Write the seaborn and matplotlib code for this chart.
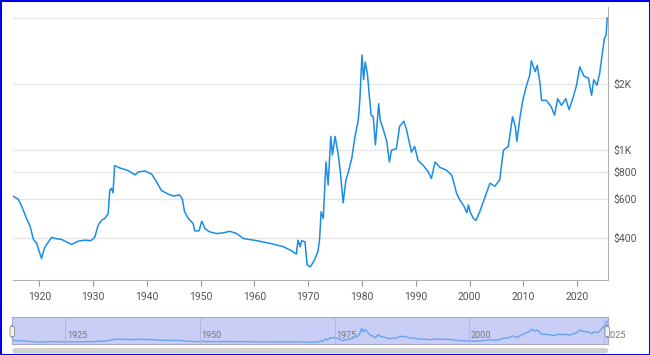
import seaborn as sns
import matplotlib.pyplot as plt
from matplotlib.patches import FancyBboxPatch, Rectangle

# inflation-adjusted gold price
years = [1915.0, 1916.1, 1917.0, 1917.6, 1918.3, 1918.9, 1919.5, 1920.4, 1921.0, 1922.3,
         1922.9, 1924.1, 1926.0, 1927.2, 1928.5, 1929.6, 1930.3, 1930.95, 1931.6, 1932.2,
         1932.8, 1933.1, 1933.4, 1933.7, 1934.0, 1935.0, 1936.5, 1937.8, 1938.4, 1939.6,
         1940.9, 1941.8, 1942.7, 1944.0, 1944.9, 1946.1, 1946.6, 1947.0, 1947.7, 1948.6,
         1948.9, 1949.7, 1950.2, 1950.8, 1951.7, 1953.0, 1954.2, 1955.4, 1956.7, 1957.9,
         1960.4, 1962.9, 1965.4, 1966.9, 1967.8, 1968.1, 1968.5, 1968.8, 1969.4, 1969.8,
         1970.4, 1971.2, 1971.8, 1972.1, 1972.4, 1972.8, 1973.3, 1973.7, 1974.2, 1974.5,
         1975.0, 1975.6, 1976.0, 1976.5, 1977.0, 1977.4, 1978.1, 1978.7, 1979.3, 1979.6,
         1980.0, 1980.3, 1980.6, 1981.0, 1981.3, 1981.7, 1982.1, 1982.5, 1983.1, 1983.4,
         1984.0, 1984.6, 1985.1, 1985.5, 1986.4, 1987.0, 1987.8, 1988.3, 1989.2, 1989.8,
         1990.4, 1991.4, 1992.3, 1992.9, 1993.6, 1994.5, 1995.7, 1996.7, 1997.6, 1998.2,
         1998.9, 1999.5, 1999.8, 2000.1, 2000.7, 2001.2, 2001.9, 2002.8, 2003.8, 2004.7,
         2005.6, 2006.3, 2007.2, 2008.0, 2008.5, 2008.8, 2009.4, 2009.9, 2010.6, 2011.2,
         2011.5, 2012.2, 2012.6, 2013.1, 2013.4, 2014.3, 2015.2, 2015.8, 2016.4, 2017.1,
         2017.9, 2018.5, 2019.2, 2019.9, 2020.5, 2021.3, 2022.1, 2022.7, 2023.1, 2023.7,
         2024.2, 2024.7, 2025.1, 2025.4, 2025.6]
prices = [621, 598, 535, 490, 449, 393, 377, 322, 362, 402,
          397, 393, 373, 386, 390, 388, 402, 457, 481, 490,
          515, 660, 671, 640, 851, 830, 808, 772, 797, 805,
          778, 718, 656, 631, 619, 626, 599, 525, 490, 464,
          430, 430, 476, 440, 425, 418, 421, 428, 418, 397,
          388, 377, 364, 349, 337, 390, 364, 388, 383, 301,
          295, 318, 346, 390, 525, 490, 884, 695, 1155, 952,
          1155, 952, 785, 577, 731, 785, 919, 1155, 1366, 1685,
          2708, 2092, 2515, 2237, 1843, 1443, 1420, 1057, 1627, 1366,
          1235, 1098, 884, 1000, 1018, 1284, 1355, 1235, 980, 1040,
          901, 852, 799, 744, 884, 835, 812, 770, 636, 594,
          560, 520, 564, 525, 490, 479, 525, 604, 708, 686,
          731, 1000, 1040, 1420, 1284, 1098, 1420, 1685, 1970, 2196,
          2552, 2276, 2432, 2015, 1685, 1685, 1574, 1443, 1714, 1600,
          1714, 1530, 1714, 1975, 2393, 2168, 2128, 1776, 2092, 1975,
          2237, 2763, 3234, 3336, 4000]

y_ticks = [400, 600, 800, 1000, 2000, 4000]
y_labels = ["$400", "$600", "$800", "$1K", "$2K", ""]
x_ticks = list(range(1920, 2021, 10))
nav_ticks = [1925, 1950, 1975, 2000, 2025]

sns.set_style("white")
plt.rcParams["font.family"] = ["Roboto", "DejaVu Sans"]

W, H = 650, 355
fig = plt.figure(figsize=(6.5, 3.55), dpi=100)
line_color = "#1b8de6"
xmin, xmax = 1915.1, 2025.75

# main chart
ax = fig.add_axes([13 / W, 1 - 280 / H, (608 - 13) / W, (280 - 7.3) / H])
sns.lineplot(x=years, y=prices, ax=ax, color=line_color, linewidth=1.1)
ax.set_yscale("log")
ax.set_ylim(257, 4465)
ax.set_xlim(xmin, xmax)
ax.yaxis.tick_right()
ax.set_yticks(y_ticks)
ax.set_yticklabels(y_labels)
ax.minorticks_off()
ax.set_xticks(x_ticks)
ax.grid(axis="y", color="#e6e6e6", linewidth=1)
ax.grid(axis="x", visible=False)
for s in ["left", "top"]:
    ax.spines[s].set_visible(False)
ax.spines["bottom"].set_color("#b0b0b0")
ax.spines["right"].set_color("#b0b0b0")
ax.tick_params(axis="y", length=0, pad=4, labelsize=7.5, labelcolor="#555555")
ax.tick_params(axis="x", length=4, width=0.8, color="#999999", pad=5,
               labelsize=7.5, labelcolor="#555555", bottom=True)
ax.set_xlabel("")
ax.set_ylabel("")

# navigator
nav = fig.add_axes([12 / W, 1 - 344 / H, (608 - 12) / W, 27 / H])
nav.set_facecolor("#c8cef6")
sns.lineplot(x=years, y=prices, ax=nav, color="#6aa4f0", linewidth=1.0)
nav.set_xlim(xmin, xmax)
nav.set_ylim(0, 4700)
nav.set_xticks([])
nav.set_yticks([])
nav.set_xlabel("")
nav.set_ylabel("")
for s in nav.spines.values():
    s.set_color("#a8aac8")
    s.set_linewidth(0.8)
for t in nav_ticks:
    nav.axvline(t, color="#aeb4de", linewidth=0.6)
    nav.text(t + 0.3, 1 - 0.85, str(t), transform=nav.get_xaxis_transform(),
             fontsize=6.5, color="#777777", va="bottom", ha="left", clip_on=False,
             zorder=1)

# navigator handles
for hx in [10, 605]:
    fig.patches.append(FancyBboxPatch((hx / W, 1 - 337 / H), 4.5 / W, 11 / H,
                                      boxstyle="round,pad=0,rounding_size=0.005",
                                      transform=fig.transFigure, facecolor="#f2f2f2",
                                      edgecolor="#999999", linewidth=0.7))

# scrollbar
fig.patches.append(FancyBboxPatch((12.5 / W, 1 - 353.5 / H), (608 - 12.5) / W, 5.5 / H,
                                  boxstyle="round,pad=0,rounding_size=0.006",
                                  transform=fig.transFigure, facecolor="#d0d0d0",
                                  edgecolor="none"))

# outer border
fig.patches.append(Rectangle((0, 0), 1, 1, transform=fig.transFigure, fill=False,
                             edgecolor="#0000ee", linewidth=2.2))

fig.savefig("out.png", dpi=100)
